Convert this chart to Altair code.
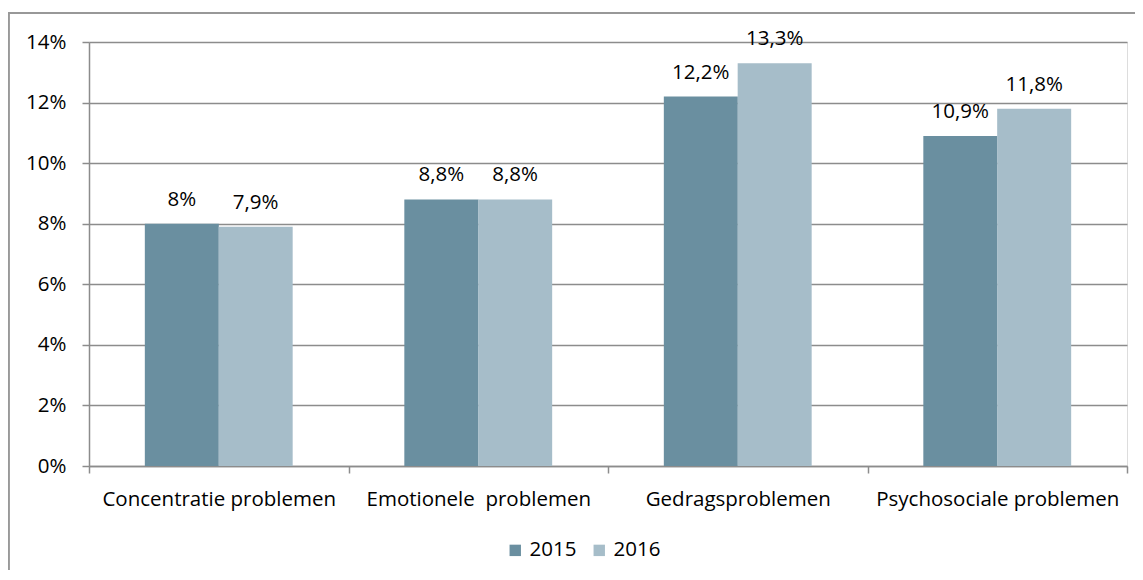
import altair as alt
import pandas as pd

categories = ["Concentratie problemen", "Emotionele\u00a0 problemen", "Gedragsproblemen", "Psychosociale problemen"]
years = ["2015", "2016"]
values_2015 = [8.0, 8.8, 12.2, 10.9]
values_2016 = [7.9, 8.8, 13.3, 11.8]
labels_2015 = ["8%", "8,8%", "12,2%", "10,9%"]
labels_2016 = ["7,9%", "8,8%", "13,3%", "11,8%"]
y_ticks = [0, 2, 4, 6, 8, 10, 12, 14]

rows = []
for c, v, l in zip(categories, values_2015, labels_2015):
    rows.append({"cat": c, "year": "2015", "value": v, "label": l})
for c, v, l in zip(categories, values_2016, labels_2016):
    rows.append({"cat": c, "year": "2016", "value": v, "label": l})
df = pd.DataFrame(rows)

FONT = "Open Sans"
FS = 20.5
GRID = "#8c8c8c"

x_enc = alt.X("cat:N", sort=categories, title=None,
              scale=alt.Scale(paddingInner=0, paddingOuter=0),
              axis=alt.Axis(labelAngle=0, tickBand="extent", ticks=True, tickSize=7,
                            tickColor=GRID, domainColor=GRID, domainWidth=1.5, tickWidth=1.5,
                            labelFont=FONT, labelFontSize=FS, labelColor="#000000",
                            labelPadding=16, labelLimit=0, grid=False))
xoff = alt.XOffset("year:N", sort=years,
                   scale=alt.Scale(paddingInner=0, paddingOuter=0.757))
y_enc = alt.Y("value:Q", title=None,
              scale=alt.Scale(domain=[0, 14], nice=False),
              axis=alt.Axis(values=y_ticks, labelExpr="datum.value + '%'",
                            grid=True, gridColor=GRID, gridWidth=1.5,
                            tickSize=7, tickColor=GRID, tickWidth=1.5,
                            domainColor=GRID, domainWidth=1.5,
                            labelFont=FONT, labelFontSize=FS, labelColor="#000000",
                            labelPadding=16))

color = alt.Color("year:N", sort=years,
                  scale=alt.Scale(domain=years, range=["#6a8fa0", "#a6bdc9"]),
                  legend=alt.Legend(title=None, orient="none", legendX=416, legendY=498,
                                    direction="horizontal", symbolType="square",
                                    symbolSize=130, symbolStrokeWidth=0,
                                    labelFont=FONT, labelFontSize=FS, labelColor="#000000",
                                    columnPadding=12, labelOffset=4))

bars = alt.Chart(df).mark_bar(size=74).encode(x=x_enc, xOffset=xoff, y=y_enc, color=color)

text = alt.Chart(df).mark_text(baseline="alphabetic", dy=-18, font=FONT, fontSize=FS,
                               color="#000000").encode(
    x=alt.X("cat:N", sort=categories), xOffset=xoff, y="value:Q", text="label:N")

border_left = alt.Chart(df).mark_rule(color="#999999", strokeWidth=1.5).encode(
    x=alt.value(-80.5), y=alt.value(-29), y2=alt.value(540))
border_top = alt.Chart(df).mark_rule(color="#999999", strokeWidth=1.5).encode(
    x=alt.value(-80.5), x2=alt.value(1100), y=alt.value(-29))

chart = alt.layer(bars, text, border_left, border_top).properties(
    width=1038, height=424,
    autosize=alt.AutoSizeParams(type="none"),
    padding={"left": 81, "top": 34, "right": 8, "bottom": 104},
).configure_view(stroke=None).configure(background="white")

chart.save("out.html", embed_options={"renderer": "svg", "actions": False})
